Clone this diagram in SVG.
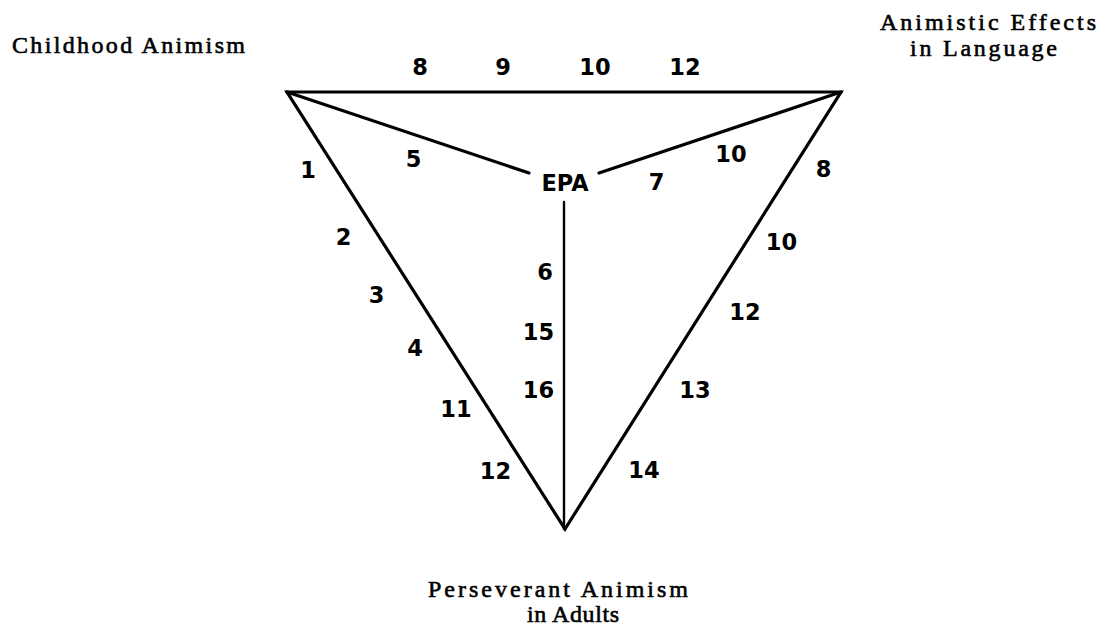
<svg xmlns="http://www.w3.org/2000/svg" width="1099" height="630" viewBox="0 0 1099 630">
<style>
.t{font-family:"Liberation Serif","Times New Roman",serif;font-size:24px;fill:#000;stroke:#000;stroke-width:0.6}
.n{font-family:"DejaVu Sans","Liberation Sans",sans-serif;font-weight:bold;font-size:22.5px;fill:#000;text-anchor:middle}
.e{stroke:#000;stroke-width:3.2;fill:none;stroke-linecap:round;stroke-linejoin:miter}
</style>
<rect width="1099" height="630" fill="#fff"/>
<g id="connectors">
<path class="e" d="M287,92 L841,92 L565,529 Z"/>
<line class="e" x1="287" y1="92" x2="529" y2="173"/>
<line class="e" x1="841" y1="92" x2="599" y2="173"/>
<line class="e" x1="564" y1="202" x2="564" y2="529" style="stroke-width:2.4"/>
</g>
<g id="childhood"><text class="t" x="12" y="53" textLength="233" lengthAdjust="spacing">Childhood Animism</text></g>
<g id="language"><text class="t" x="880" y="30" textLength="216" lengthAdjust="spacing">Animistic Effects</text><text class="t" x="910" y="56" textLength="147" lengthAdjust="spacing">in Language</text></g>
<g id="adults"><text class="t" x="428" y="597" textLength="260" lengthAdjust="spacing">Perseverant Animism</text><text class="t" x="573" y="622" text-anchor="middle" textLength="92" lengthAdjust="spacing">in Adults</text></g>
<g id="epa"><text class="n" x="565" y="191">EPA</text></g>
<g id="labels">
<text class="n" x="420" y="75">8</text>
<text class="n" x="503" y="75">9</text>
<text class="n" x="595" y="75">10</text>
<text class="n" x="685" y="75">12</text>
<text class="n" x="308" y="178">1</text>
<text class="n" x="413.5" y="167">5</text>
<text class="n" x="656.5" y="190">7</text>
<text class="n" x="731" y="162">10</text>
<text class="n" x="823.5" y="177">8</text>
<text class="n" x="343.5" y="245">2</text>
<text class="n" x="376.5" y="303">3</text>
<text class="n" x="415" y="356">4</text>
<text class="n" x="456" y="417">11</text>
<text class="n" x="495.5" y="479">12</text>
<text class="n" x="545" y="280">6</text>
<text class="n" x="538.5" y="340">15</text>
<text class="n" x="538.5" y="398">16</text>
<text class="n" x="781.5" y="250">10</text>
<text class="n" x="745" y="320">12</text>
<text class="n" x="695" y="398">13</text>
<text class="n" x="644" y="478">14</text>
</g>
</svg>
